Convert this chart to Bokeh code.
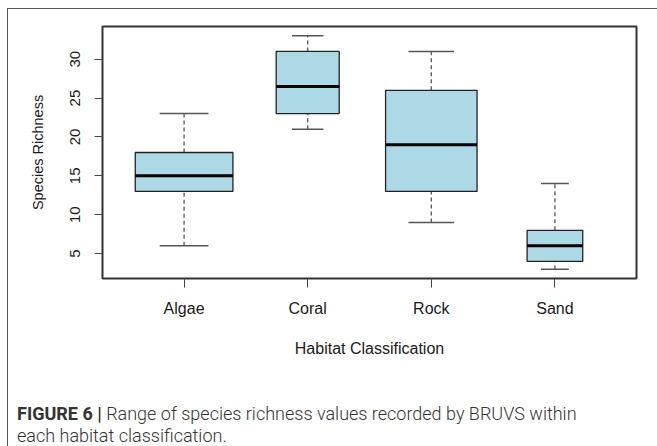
from bokeh.plotting import figure
from bokeh.models import FactorRange, Range1d, FixedTicker, Div
from bokeh.layouts import column
from bokeh.embed import file_html
from bokeh.resources import INLINE

categories = ["Algae", "Coral", "Rock", "Sand"]
lower_whisker = [6, 21, 9, 3]
q1 = [13, 23, 13, 4]
median = [15, 26.5, 19, 6]
q3 = [18, 31, 26, 8]
upper_whisker = [23, 33, 31, 14]
y_ticks = [5, 10, 15, 20, 25, 30]

# relative box widths (varwidth-style), caps are half of the box
box_width = [0.79, 0.51, 0.74, 0.45]
cap_width = [w / 2 for w in box_width]

p = figure(
    x_range=FactorRange(*categories, range_padding=0.16, range_padding_units="absolute"),
    y_range=Range1d(1.8, 34.2),
    width=647, height=380,
    output_backend="svg", toolbar_location=None,
    min_border_left=94, min_border_right=19, min_border_top=17, min_border_bottom=111,
)
p.xgrid.visible = False
p.ygrid.visible = False
p.outline_line_color = "#333333"
p.outline_line_width = 2
p.background_fill_color = "white"
p.border_fill_color = "white"

# whiskers
p.segment(x0=categories, y0=q3, x1=categories, y1=upper_whisker,
          line_color="#555555", line_width=1.3, line_dash="4 3")
p.segment(x0=categories, y0=lower_whisker, x1=categories, y1=q1,
          line_color="#555555", line_width=1.3, line_dash="4 3")
# caps
p.vbar(x=categories, width=cap_width, bottom=upper_whisker, top=upper_whisker,
       fill_color=None, line_color="#555555", line_width=1.5)
p.vbar(x=categories, width=cap_width, bottom=lower_whisker, top=lower_whisker,
       fill_color=None, line_color="#555555", line_width=1.5)
# boxes
p.vbar(x=categories, width=box_width, bottom=q1, top=q3,
       fill_color="#ADD8E6", line_color="#222222", line_width=1.3)
# medians
p.vbar(x=categories, width=box_width, bottom=median, top=median,
       fill_color=None, line_color="#000000", line_width=3)

for ax in (p.xaxis[0], p.yaxis[0]):
    ax.axis_line_color = None
    ax.major_tick_in = 0
    ax.minor_tick_line_color = None
    ax.major_tick_line_color = "#444444"
    ax.major_label_text_font = "Liberation Sans"
    ax.major_label_text_color = "#1a1a1a"
    ax.axis_label_text_font = "Liberation Sans"
    ax.axis_label_text_font_style = "normal"
    ax.axis_label_text_color = "#1a1a1a"

p.xaxis.major_tick_out = 9
p.xaxis.major_label_standoff = 12
p.xaxis.major_label_text_font_size = "16px"
p.xaxis.axis_label = "Habitat Classification"
p.xaxis.axis_label_text_font_size = "16px"
p.xaxis.axis_label_standoff = 20

p.yaxis.ticker = FixedTicker(ticks=y_ticks)
p.yaxis.major_tick_out = 8
p.yaxis.major_label_orientation = "vertical"
p.yaxis.major_label_standoff = 14
p.yaxis.major_label_text_font_size = "15px"
p.yaxis.axis_label = "Species Richness"
p.yaxis.axis_label_text_font_size = "14.5px"
p.yaxis.axis_label_standoff = 22

caption = Div(
    text=('<div style="font-family:Roboto, \'Liberation Sans\', sans-serif; font-size:18px; '
          'line-height:22px; color:#333; white-space:nowrap; font-weight:300;">'
          '<span style="font-weight:700;">FIGURE 6 |</span> Range of species richness values recorded by BRUVS within<br>'
          'each habitat classification.</div>'),
    width=640, height=55,
    styles={"padding-left": "4px", "padding-top": "9px"},
)

layout = column(p, caption, spacing=0,
                styles={"border-top": "1.5px solid #555", "border-left": "1.5px solid #555",
                        "background-color": "white", "margin-left": "7px", "margin-top": "8px"})

open("out.html", "w").write(file_html(layout, INLINE))
